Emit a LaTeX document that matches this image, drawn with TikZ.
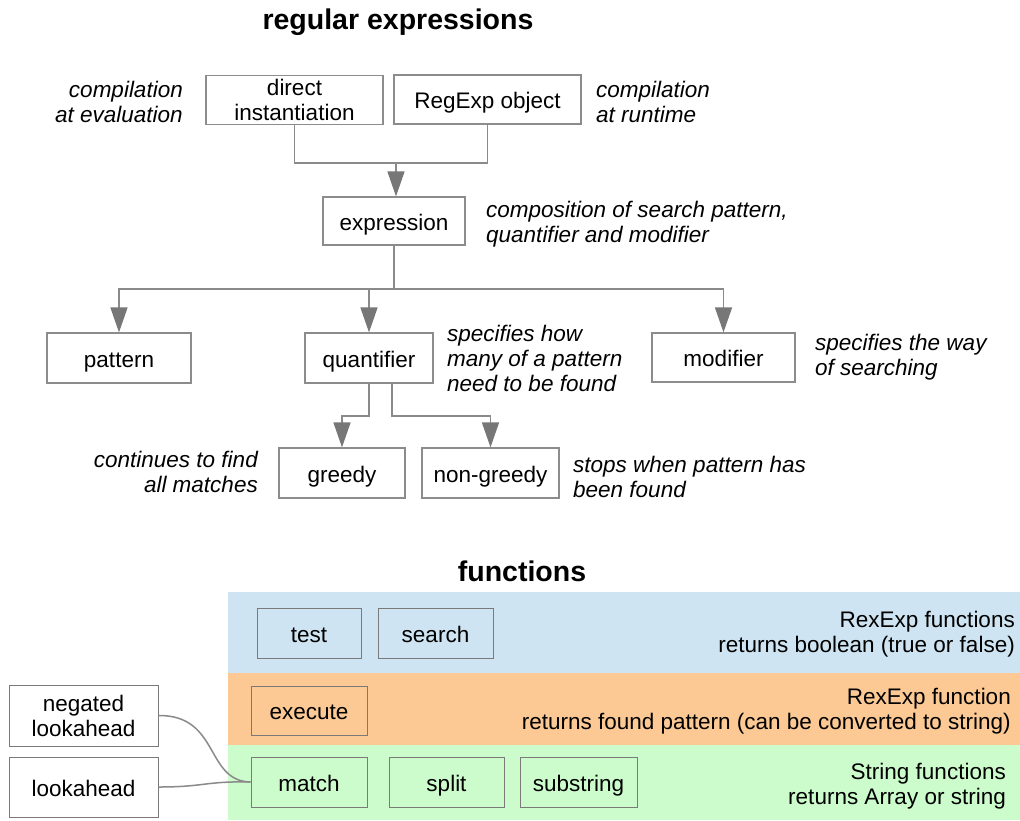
\documentclass[tikz,border=0pt]{standalone}
\usepackage{fontspec}
\setmainfont{Liberation Sans}
\usetikzlibrary{arrows.meta}
\definecolor{boxline}{HTML}{8C8C8C}
\definecolor{linegray}{HTML}{8A8A8A}
\definecolor{tipgray}{HTML}{777777}
\definecolor{fnline}{HTML}{7A7A7A}
\definecolor{bandblue}{HTML}{CFE4F2}
\definecolor{bandorange}{HTML}{FCC995}
\definecolor{bandgreen}{HTML}{CCFCCC}
\newcommand\normfont{\fontsize{22.5pt}{25pt}\selectfont}
\newcommand\titlefont{\fontsize{28.5pt}{32pt}\selectfont\bfseries}
\tikzset{
  sz/.style 2 args={minimum width=#1pt, minimum height=#2pt},
  oneline/.style={text height=19pt, text depth=1pt},
  box/.style={draw=boxline, line width=1.3pt, inner sep=0pt, align=center, font=\normfont},
  fnbox/.style={draw=fnline, line width=1pt, inner sep=0pt, align=center, font=\normfont},
  note/.style={inner sep=0pt, font=\normfont\itshape},
  bandtext/.style={inner sep=0pt, font=\normfont, align=right, anchor=east},
  title/.style={inner sep=0pt, font=\titlefont},
  conn/.style={draw=linegray, line width=1.5pt},
  arr/.style={conn, -{Triangle[width=17pt,length=25pt,color=tipgray]}},
  curve/.style={draw=linegray, line width=1.5pt},
}
\begin{document}
\begin{tikzpicture}[x=1pt,y=-1pt]
\useasboundingbox (0,0) rectangle (1020,820);
\fill[white] (0,0) rectangle (1020,820);

% bands
\fill[bandblue] (228,592) rectangle (1020,673);
\fill[bandorange] (228,673) rectangle (1020,745);
\fill[bandgreen] (228,745) rectangle (1020,820);

% titles
\node[title] (ttl) at (398,22) {regular expressions};
\node[title] (fns) at (522,571) {functions};

% upper boxes
\node[box, sz={177}{49}] (direct) at (294.5,100) {direct\\instantiation};
\node[box, oneline, sz={187}{49}] (regexp) at (487.5,99.5) {RegExp object};
\node[box, oneline, sz={142}{48}] (expr) at (394,221) {expression};
\node[box, oneline, sz={144}{50}] (pattern) at (119,358) {pattern};
\node[box, oneline, sz={128}{50}] (quant) at (369,358) {quantifier};
\node[box, oneline, sz={143}{49}] (modif) at (723.5,357.5) {modifier};
\node[box, oneline, sz={126}{50}] (greedy) at (342,473) {greedy};
\node[box, oneline, sz={137}{50}] (nongreedy) at (490.5,473) {non-greedy};

% annotations
\node[note, align=right, anchor=east] (n1) at (183,102) {compilation\\at evaluation};
\node[note, align=left, anchor=west] (n2) at (596,102) {compilation\\at runtime};
\node[note, align=left, anchor=west] (n3) at (486,224) {composition of search pattern,\\quantifier and modifier};
\node[note, align=left, anchor=west] (n4) at (447,358) {specifies how\\many of a pattern\\need to be found};
\node[note, align=left, anchor=west] (n5) at (815,357) {specifies the way\\of searching};
\node[note, align=right, anchor=east] (n6) at (258,472) {continues to find\\all matches};
\node[note, align=left, anchor=west] (n7) at (573,477) {stops when pattern has\\been found};

% connectors upper
\coordinate (j1) at (396,163);
\draw[conn] (direct.south) |- (j1);
\draw[conn] (regexp.south) |- (j1);
\draw[arr] (j1) -- (j1 |- expr.north);
\coordinate (j2) at (394,289);
\draw[conn] (expr.south) -- (j2);
\draw[arr] (j2) -| (pattern.north);
\draw[arr] (j2) -| (modif.north);
\draw[arr] (quant.north |- j2) -- (quant.north);
\coordinate (q1) at (369,416);
\coordinate (q2) at (392,416);
\draw[arr] (quant.south -| q1) -- (q1) -| (greedy.north);
\draw[arr] (quant.south -| q2) -- (q2) -| (nongreedy.north);

% function boxes
\node[fnbox, oneline, sz={104}{50}] (test) at (309,633) {test};
\node[fnbox, oneline, sz={115}{50}] (search) at (435.5,633) {search};
\node[fnbox, oneline, sz={116}{49}] (exec) at (309,710.5) {execute};
\node[fnbox, oneline, sz={116}{50}] (match) at (309,782) {match};
\node[fnbox, oneline, sz={115}{50}] (split) at (446.5,782) {split};
\node[fnbox, oneline, sz={117}{50}] (substr) at (578.5,782) {substring};
\node[fnbox, sz={149}{61}] (neglook) at (83.5,715.5) {negated\\lookahead};
\node[fnbox, oneline, sz={149}{60}] (look) at (83.5,787) {lookahead};

\node[bandtext] (b1) at (1015,634) {RexExp functions\\returns boolean (true or false)};
\node[bandtext] (b2) at (1011,711) {RexExp function\\returns found pattern (can be converted to string)};
\node[bandtext] (b3) at (1006,786) {String functions\\returns Array or string};

% curves
\draw[curve] (neglook.east) .. controls (220,715) and (205,781) .. (match.west);
\draw[curve] (look.east) .. controls (205,787) and (205,781) .. (match.west);
\end{tikzpicture}
\end{document}
